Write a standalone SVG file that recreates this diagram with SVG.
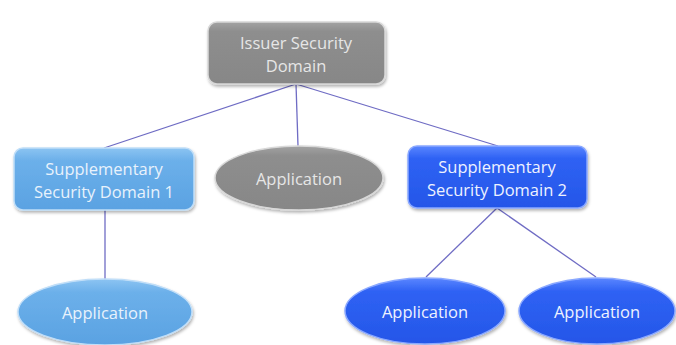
<svg xmlns="http://www.w3.org/2000/svg" width="676" height="345" viewBox="0 0 676 345">
  <defs>
    <linearGradient id="gGray" x1="0" y1="0" x2="0" y2="1">
      <stop offset="0" stop-color="#a3a3a3"/>
      <stop offset="0.15" stop-color="#8e8e8e"/>
      <stop offset="1" stop-color="#878787"/>
    </linearGradient>
    <linearGradient id="gLight" x1="0" y1="0" x2="0" y2="1">
      <stop offset="0" stop-color="#8cc4f2"/>
      <stop offset="0.2" stop-color="#6cb0ea"/>
      <stop offset="1" stop-color="#5aa2e2"/>
    </linearGradient>
    <linearGradient id="gBlue" x1="0" y1="0" x2="0" y2="1">
      <stop offset="0" stop-color="#5a86ff"/>
      <stop offset="0.2" stop-color="#2f62f4"/>
      <stop offset="1" stop-color="#2456e8"/>
    </linearGradient>
    <filter id="shadow" x="-10%" y="-10%" width="120%" height="130%">
      <feDropShadow dx="1" dy="2" stdDeviation="1.5" flood-color="#000" flood-opacity="0.3"/>
    </filter>
  </defs>
  <style>
    .lbl { font-family: "Open Sans", "Noto Sans", "Liberation Sans", sans-serif; font-size: 16.5px; text-anchor: middle; }
    .gray { fill: url(#gGray); stroke: #d8d8d8; stroke-width: 1.5; }
    .light { fill: url(#gLight); stroke: #c0def8; stroke-width: 1.5; }
    .blue { fill: url(#gBlue); stroke: #8aa8ff; stroke-width: 1.5; }
    .t-gray { fill: #e6e6e6; }
    .t-light { fill: #e8f2fc; }
    .t-blue { fill: #eef2ff; }
    .edge { stroke: #6f6cc4; stroke-width: 1.3; fill: none; }
  </style>
  <rect width="676" height="345" fill="#ffffff"/>

  <g id="connectors">
    <line class="edge" x1="296" y1="84" x2="104" y2="148"/>
    <line class="edge" x1="296" y1="84" x2="298" y2="146"/>
    <line class="edge" x1="296" y1="84" x2="498" y2="146"/>
    <line class="edge" x1="105" y1="210" x2="105" y2="279"/>
    <line class="edge" x1="497" y1="208" x2="426" y2="277"/>
    <line class="edge" x1="497" y1="208" x2="596" y2="277"/>
  </g>

  <g id="issuer-sd">
    <rect class="gray" x="208" y="22" width="177" height="62" rx="9" filter="url(#shadow)"/>
    <text class="lbl t-gray" x="296" y="49">Issuer Security</text>
    <text class="lbl t-gray" x="296" y="72">Domain</text>
  </g>

  <g id="ssd1">
    <rect class="light" x="14" y="148" width="180" height="62" rx="9" filter="url(#shadow)"/>
    <text class="lbl t-light" x="104" y="175">Supplementary</text>
    <text class="lbl t-light" x="104" y="198">Security Domain 1</text>
  </g>

  <g id="app-issuer">
    <ellipse class="gray" cx="299" cy="178" rx="84" ry="32" filter="url(#shadow)"/>
    <text class="lbl t-gray" x="299" y="185">Application</text>
  </g>

  <g id="ssd2">
    <rect class="blue" x="408" y="146" width="179" height="62" rx="9" filter="url(#shadow)"/>
    <text class="lbl t-blue" x="497" y="173">Supplementary</text>
    <text class="lbl t-blue" x="497" y="196">Security Domain 2</text>
  </g>

  <g id="app-ssd1">
    <ellipse class="light" cx="105" cy="312" rx="87" ry="33" filter="url(#shadow)"/>
    <text class="lbl t-light" x="105" y="319">Application</text>
  </g>

  <g id="app-ssd2-a">
    <ellipse class="blue" cx="425" cy="311" rx="80" ry="33" filter="url(#shadow)"/>
    <text class="lbl t-blue" x="425" y="318">Application</text>
  </g>

  <g id="app-ssd2-b">
    <ellipse class="blue" cx="597" cy="311" rx="78" ry="33" filter="url(#shadow)"/>
    <text class="lbl t-blue" x="597" y="318">Application</text>
  </g>
</svg>
